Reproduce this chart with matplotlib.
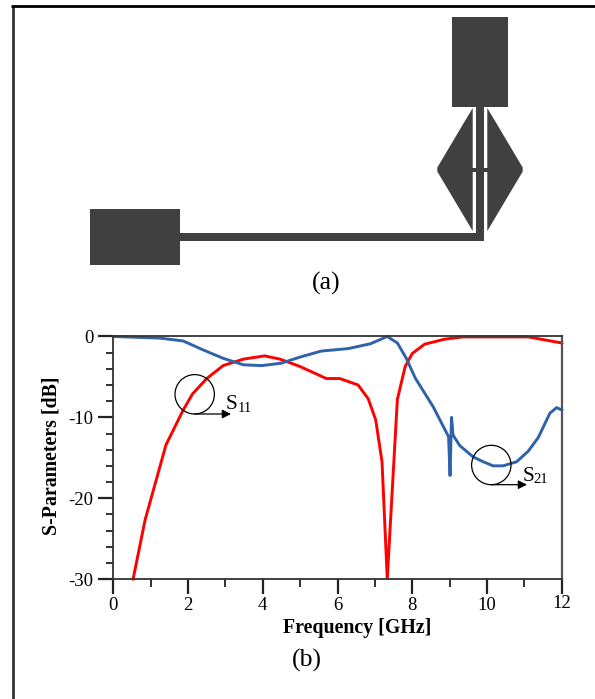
"""S-parameter figure: antenna layout (a) and measured response (b)."""

import matplotlib
matplotlib.use("Agg")
import matplotlib.pyplot as plt
from matplotlib.patches import Circle, Polygon, Rectangle
from matplotlib.ticker import MultipleLocator

plt.rcParams['font.family'] = ['Liberation Serif', 'DejaVu Serif']

W, H = 595, 699

s11_freq = [0.53, 0.85, 1.41, 1.87, 2.12, 2.5, 2.94, 3.48, 4.05, 4.46, 4.99, 5.70, 6.06, 6.55,
            6.82, 7.02, 7.19, 7.33, 7.6, 7.81, 8.0, 8.33, 8.87, 9.36, 11.1, 12.0]
s11_db = [-30, -22.7, -13.4, -9.1, -7.1, -5.2, -3.6, -2.8, -2.4, -2.8, -3.7, -5.2, -5.2, -6.0,
          -7.7, -10.3, -15.5, -30, -7.8, -3.7, -2.1, -0.95, -0.33, -0.05, -0.05, -0.8]

s21_freq = [0, 1.25, 1.87, 2.4, 2.94, 3.48, 3.97, 4.5, 4.99, 5.57, 6.28, 6.88, 7.33, 7.6, 7.84,
            8.08, 8.56, 8.97, 9.01, 9.05, 9.09, 9.27, 9.63, 9.9, 10.16, 10.43, 10.79, 11.1,
            11.37, 11.68, 11.86, 12.0]
s21_db = [0, -0.2, -0.55, -1.65, -2.7, -3.5, -3.6, -3.3, -2.55, -1.8, -1.5, -0.9, 0, -0.8, -2.7,
          -5.15, -8.7, -12.4, -17.2, -10, -12.2, -13.5, -14.9, -15.5, -16, -16, -15.5, -14.2,
          -12.5, -9.5, -8.8, -9.1]

x_ticks = [0, 2, 4, 6, 8, 10, 12]
y_ticks = [0, -10, -20, -30]
y_tick_labels = ['0', '-10', '-20', '-30']

fig = plt.figure(figsize=(W / 100, H / 100), dpi=100)

# full figure overlay in pixel coordinates for the layout drawing and notes
bg = fig.add_axes([0, 0, 1, 1], zorder=0)
bg.set_xlim(0, W)
bg.set_ylim(H, 0)
bg.axis('off')

dark = '#404040'
bg.add_patch(Rectangle((452, 17), 56, 90, fc=dark, ec='none'))
bg.add_patch(Rectangle((90, 209), 90, 56, fc=dark, ec='none'))
bg.add_patch(Rectangle((180, 232.7), 304, 8, fc=dark, ec='none'))
bg.add_patch(Rectangle((476, 107), 8, 133, fc=dark, ec='none'))
bg.add_patch(Polygon([(472.7, 108), (437.3, 167.5), (437.3, 171.5), (472.7, 231)], fc=dark, ec='none'))
bg.add_patch(Polygon([(487.3, 108), (522.7, 167.5), (522.7, 171.5), (487.3, 231)], fc=dark, ec='none'))
bg.add_patch(Rectangle((472, 168), 16, 4.3, fc=dark, ec='none'))

# page frame
bg.plot([12.5, 12.5], [699, 6], color='#333333', lw=2, solid_capstyle='butt')
bg.plot([11, 595], [6, 6], color='black', lw=2, solid_capstyle='butt')

bg.text(326, 283, '(a)', fontsize=18.5, ha='center', va='center')
bg.text(307, 660, '(b)', fontsize=18.5, ha='center', va='center')
bg.text(357, 628, 'Frequency [GHz]', fontsize=14.3, fontweight='bold', ha='center', va='center')
bg.text(52, 456, 'S-Parameters [dB]', fontsize=14.3, fontweight='bold', ha='center', va='center',
        rotation=90)

ax = fig.add_axes([113.3 / W, 1 - 579 / H, 448.5 / W, 242.5 / H], zorder=1)
ax.patch.set_alpha(0)
ax.plot(s11_freq, s11_db, color='#ff0000', lw=2.1, solid_joinstyle='miter', clip_on=False)
ax.plot(s21_freq, s21_db, color='#2e62ab', lw=2.1, clip_on=False)
ax.set_xlim(0, 12)
ax.set_ylim(-30, 0)
ax.set_xticks(x_ticks)
ax.set_yticks(y_ticks, labels=y_tick_labels)
ax.xaxis.set_minor_locator(MultipleLocator(1))
ax.yaxis.set_minor_locator(MultipleLocator(2))
ax.tick_params(axis='both', which='major', length=10.8, width=1.6, labelsize=13.5, color='#222222')
ax.tick_params(axis='x', which='major', pad=2.5)
ax.tick_params(axis='y', which='major', pad=3.6)
ax.tick_params(axis='both', which='minor', length=5.4, width=1.3, color='#222222')
ax.xaxis.get_major_ticks()[-1].set_pad(0.5)  # the 12 sits a bit higher in the original
for side, spine in ax.spines.items():
    spine.set_linewidth(1.3)
    spine.set_color('#333333')
ax.spines['right'].set_linewidth(1.6)
ax.spines['right'].set_color('#555555')

# circle and arrow callouts
over = fig.add_axes([0, 0, 1, 1], zorder=2)
over.set_xlim(0, W)
over.set_ylim(H, 0)
over.axis('off')
over.patch.set_alpha(0)
for cx, cy, x_end in [(194.7, 394.3, 231), (491.3, 465, 527)]:
    over.add_patch(Circle((cx, cy), 19.7, fc='none', ec='black', lw=0.9))
    over.annotate('', xy=(x_end, cy + 19.7), xytext=(cx, cy + 19.7),
                  arrowprops=dict(arrowstyle='-|>', color='black', lw=0.9, shrinkA=0, shrinkB=0,
                                  mutation_scale=13))
over.text(226, 409.3, 'S', fontsize=15.5, ha='left', va='baseline')
over.text(237.3, 411.7, '11', fontsize=10.5, ha='left', va='baseline')
over.text(522.7, 480.7, 'S', fontsize=15.5, ha='left', va='baseline')
over.text(533.3, 483.3, '21', fontsize=10.5, ha='left', va='baseline')

fig.savefig('out.png', dpi=100)
